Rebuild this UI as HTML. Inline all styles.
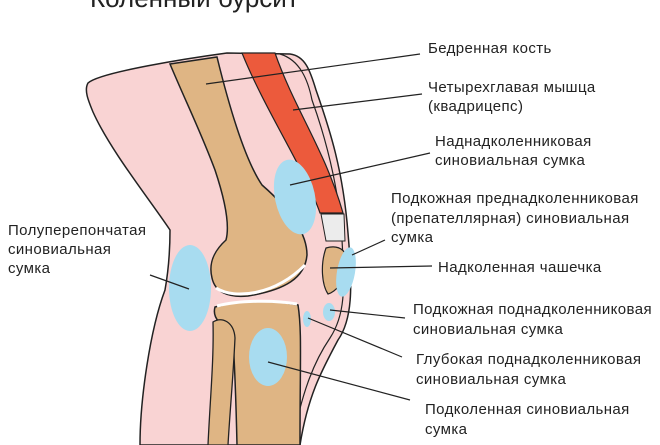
<!DOCTYPE html>
<html><head><meta charset="utf-8"><style>
html,body{margin:0;padding:0;background:#fff;}
svg{display:block;}
text{font-family:"Liberation Sans",sans-serif;font-size:15px;letter-spacing:0.4px;fill:#222;}
</style></head><body>
<svg width="660" height="445" viewBox="0 0 660 445" xmlns="http://www.w3.org/2000/svg">
<text x="90" y="7" style="font-size:26px;letter-spacing:0">Коленный бурсит</text>
<!-- leg skin -->
<path d="M88,83 C100,72 190,58 227,53 L290,54 C305,56 310,70 316,90 C330,130 343,170 348,233 C353,290 352,320 338,340 C322,370 308,395 300,445 L140,445 C140,400 150,330 165,290 C170,262 170,240 170,230 C150,200 110,150 93,112 C88,100 84,90 88,83 Z" fill="#f9d3d3" stroke="#222" stroke-width="1.5"/>
<path d="M280,54 C300,60 308,80 312,100 C330,150 340,200 342,240 C345,290 345,315 330,338 C315,360 302,390 292,445" fill="none" stroke="#222" stroke-width="1.2"/>
<!-- quadriceps -->
<path d="M242,53 L275,53 C295,110 325,150 343,213 L320,213 C305,170 265,110 242,53 Z" fill="#ec5a3c" stroke="#222" stroke-width="1.2"/>
<path d="M321,214 L344,214 L345,241 L326,241 Z" fill="#ececec" stroke="#222" stroke-width="1"/>
<!-- femur -->
<path d="M170,64 L217,57 C230,110 245,160 262,185 C285,205 307,230 307,255 C305,278 285,290 248,296 C228,298 215,292 212,278 C208,262 215,250 226,240 C230,225 225,200 215,170 C200,130 185,100 170,64 Z" fill="#dfb584" stroke="#222" stroke-width="1.5"/>
<path d="M216,288 C235,300 275,295 305,265" fill="none" stroke="#fff" stroke-width="3"/>
<!-- patella -->
<path d="M326,248 C340,244 350,252 347,268 C345,282 335,292 328,294 C322,285 320,265 326,248 Z" fill="#dfb584" stroke="#222" stroke-width="1.2"/>
<!-- tibia -->
<path d="M215,307 C240,300 275,300 298,305 C302,330 300,360 300,445 L237,445 C236,400 234,345 232,330 C220,325 212,318 215,307 Z" fill="#dfb584" stroke="#222" stroke-width="1.5"/>
<path d="M217,306 C240,300 275,300 297,304" fill="none" stroke="#fff" stroke-width="3"/>
<!-- fibula -->
<path d="M213,322 C222,316 234,322 235,338 C233,380 230,410 228,445 L208,445 C210,400 214,360 213,322 Z" fill="#dfb584" stroke="#222" stroke-width="1.3"/>
<!-- bursae -->
<g fill="#a8dcf0">
<ellipse cx="295" cy="197" rx="20" ry="38" transform="rotate(-12 295 197)"/>
<ellipse cx="190" cy="288" rx="21" ry="43"/>
<ellipse cx="268" cy="357" rx="19" ry="29"/>
<ellipse cx="346" cy="272" rx="9" ry="25" transform="rotate(10 346 272)"/>
<ellipse cx="329" cy="312" rx="6" ry="9"/>
<ellipse cx="307" cy="319" rx="4" ry="8"/>
</g>
<g stroke="#222" stroke-width="1.2" fill="none">
<line x1="206" y1="84" x2="420" y2="54"/>
<line x1="293" y1="110" x2="422" y2="94"/>
<line x1="290" y1="185" x2="430" y2="153"/>
<line x1="352" y1="255" x2="385" y2="240"/>
<line x1="330" y1="268" x2="432" y2="266"/>
<line x1="330" y1="310" x2="405" y2="318"/>
<line x1="308" y1="318" x2="402" y2="357"/>
<line x1="268" y1="362" x2="410" y2="400"/>
<line x1="150" y1="275" x2="189" y2="289"/>
</g>
<text x="428" y="53">Бедренная кость</text>
<text x="428" y="92">Четырехглавая мышца</text>
<text x="428" y="111">(квадрицепс)</text>
<text x="435" y="146">Наднадколенниковая</text>
<text x="435" y="165">синовиальная сумка</text>
<text x="391" y="203">Подкожная преднадколенниковая</text>
<text x="391" y="223">(препателлярная) синовиальная</text>
<text x="391" y="242">сумка</text>
<text x="438" y="272">Надколенная чашечка</text>
<text x="413" y="314">Подкожная поднадколенниковая</text>
<text x="413" y="334">синовиальная сумка</text>
<text x="416" y="364">Глубокая поднадколенниковая</text>
<text x="416" y="384">синовиальная сумка</text>
<text x="425" y="414">Подколенная синовиальная</text>
<text x="425" y="434">сумка</text>
<text x="8" y="235">Полуперепончатая</text>
<text x="8" y="254">синовиальная</text>
<text x="8" y="273">сумка</text>
</svg>
</body></html>
